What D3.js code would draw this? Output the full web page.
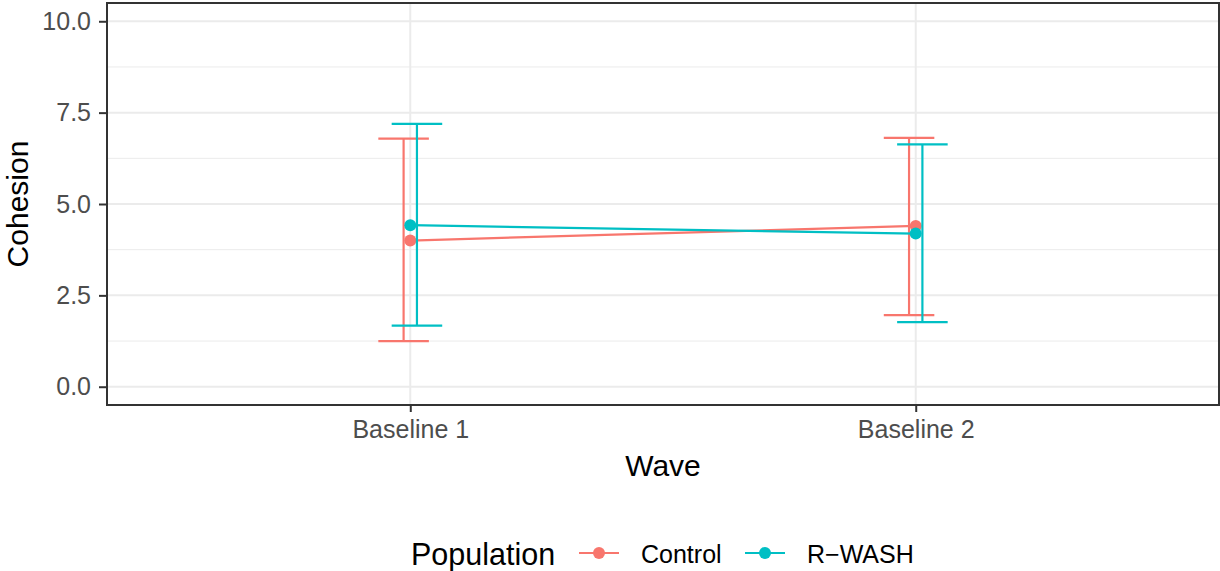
<!DOCTYPE html>
<html>
<head>
<meta charset="utf-8">
<script src="https://cdn.jsdelivr.net/npm/d3@7"></script>
<style>
  body { margin: 0; background: #fff; }
  svg { font-family: "Liberation Sans", Arial, sans-serif; }
</style>
</head>
<body>
<svg id="svg" width="1220" height="571"></svg>
<script>
var waves = ["Baseline 1", "Baseline 2"];
var populations = ["Control", "R\u2212WASH"];
var colors = ["#F8766D", "#00BFC4"];

// mean and error bar ends
var controlMean = [4.00, 4.40];
var controlLow  = [1.25, 1.96];
var controlHigh = [6.79, 6.81];
var rwashMean = [4.42, 4.19];
var rwashLow  = [1.67, 1.77];
var rwashHigh = [7.19, 6.63];

var yTicks = [0, 2.5, 5, 7.5, 10];
var yMinor = [1.25, 3.75, 6.25, 8.75];

var svg = d3.select('#svg');
var panel = { left: 107, right: 1219, top: 3, bottom: 405 };

var x = d3.scalePoint()
    .domain(waves)
    .range([panel.left, panel.right])
    .padding(0.6);

var y = d3.scaleLinear()
    .domain([-0.5, 10.5])
    .range([panel.bottom, panel.top]);

var step = x.step();
var dodge = [-0.0132 * step, 0.0132 * step];
var capHalf = 0.05 * step;

// grid
svg.append('g').selectAll('line.minor')
    .data(yMinor).enter().append('line')
    .attr('x1', panel.left).attr('x2', panel.right)
    .attr('y1', d => y(d)).attr('y2', d => y(d))
    .style('stroke', '#EBEBEB').style('stroke-width', 1);

svg.append('g').selectAll('line.major')
    .data(yTicks).enter().append('line')
    .attr('x1', panel.left).attr('x2', panel.right)
    .attr('y1', d => y(d)).attr('y2', d => y(d))
    .style('stroke', '#EBEBEB').style('stroke-width', 2);

svg.append('g').selectAll('line.vmajor')
    .data(waves).enter().append('line')
    .attr('x1', d => x(d)).attr('x2', d => x(d))
    .attr('y1', panel.top).attr('y2', panel.bottom)
    .style('stroke', '#EBEBEB').style('stroke-width', 2);

var series = [
    { name: populations[0], color: colors[0], mean: controlMean, low: controlLow, high: controlHigh, off: dodge[0] },
    { name: populations[1], color: colors[1], mean: rwashMean, low: rwashLow, high: rwashHigh, off: dodge[1] }
];

series.forEach(function(s) {
    var g = svg.append('g');
    var rows = waves.map((w, i) => ({ w: w, m: s.mean[i], lo: s.low[i], hi: s.high[i] }));

    g.selectAll('line.bar').data(rows).enter().append('line')
        .attr('x1', d => x(d.w) + s.off).attr('x2', d => x(d.w) + s.off)
        .attr('y1', d => y(d.lo)).attr('y2', d => y(d.hi))
        .style('stroke', s.color).style('stroke-width', 2.2);
    g.selectAll('line.capH').data(rows).enter().append('line')
        .attr('x1', d => x(d.w) + s.off - capHalf).attr('x2', d => x(d.w) + s.off + capHalf)
        .attr('y1', d => y(d.hi)).attr('y2', d => y(d.hi))
        .style('stroke', s.color).style('stroke-width', 2.2);
    g.selectAll('line.capL').data(rows).enter().append('line')
        .attr('x1', d => x(d.w) + s.off - capHalf).attr('x2', d => x(d.w) + s.off + capHalf)
        .attr('y1', d => y(d.lo)).attr('y2', d => y(d.lo))
        .style('stroke', s.color).style('stroke-width', 2.2);

    g.append('path')
        .datum(rows)
        .attr('d', d3.line().x(d => x(d.w)).y(d => y(d.m)))
        .style('fill', 'none').style('stroke', s.color).style('stroke-width', 2.2);

    g.selectAll('circle').data(rows).enter().append('circle')
        .attr('cx', d => x(d.w)).attr('cy', d => y(d.m)).attr('r', 6)
        .style('fill', s.color);
});

// panel border
svg.append('rect')
    .attr('x', panel.left).attr('y', panel.top)
    .attr('width', panel.right - panel.left).attr('height', panel.bottom - panel.top)
    .style('fill', 'none').style('stroke', '#333333').style('stroke-width', 2);

// axes
var yAxis = svg.append('g')
    .attr('transform', 'translate(' + panel.left + ',0)')
    .call(d3.axisLeft(y).tickValues(yTicks).tickFormat(d3.format('.1f')).tickSize(8).tickPadding(8));
var xAxis = svg.append('g')
    .attr('transform', 'translate(0,' + panel.bottom + ')')
    .call(d3.axisBottom(x).tickSize(7).tickPadding(8.5));

[yAxis, xAxis].forEach(function(a) {
    a.select('.domain').remove();
    a.selectAll('.tick line').style('stroke', '#333333').style('stroke-width', 2);
    a.selectAll('.tick text').style('fill', '#4D4D4D').style('font-size', '25px')
        .style('font-family', '"Liberation Sans", Arial, sans-serif');
});

svg.append('text')
    .attr('x', (panel.left + panel.right) / 2).attr('y', 476)
    .attr('text-anchor', 'middle')
    .style('font-size', '30px').text('Wave');

svg.append('text')
    .attr('transform', 'translate(28,' + ((panel.top + panel.bottom) / 2) + ') rotate(-90)')
    .attr('text-anchor', 'middle')
    .style('font-size', '30px').text('Cohesion');

// legend
var legend = svg.append('g');
legend.append('text').attr('x', 411).attr('y', 565).style('font-size', '30.5px').text('Population');
var keyX = [579, 745];
series.forEach(function(s, i) {
    legend.append('line')
        .attr('x1', keyX[i]).attr('x2', keyX[i] + 40).attr('y1', 553).attr('y2', 553)
        .style('stroke', s.color).style('stroke-width', 2.2);
    legend.append('circle')
        .attr('cx', keyX[i] + 20).attr('cy', 553).attr('r', 6).style('fill', s.color);
    legend.append('text')
        .attr('x', keyX[i] + 62).attr('y', 563)
        .style('font-size', '25px').text(s.name);
});
</script>
</body>
</html>
